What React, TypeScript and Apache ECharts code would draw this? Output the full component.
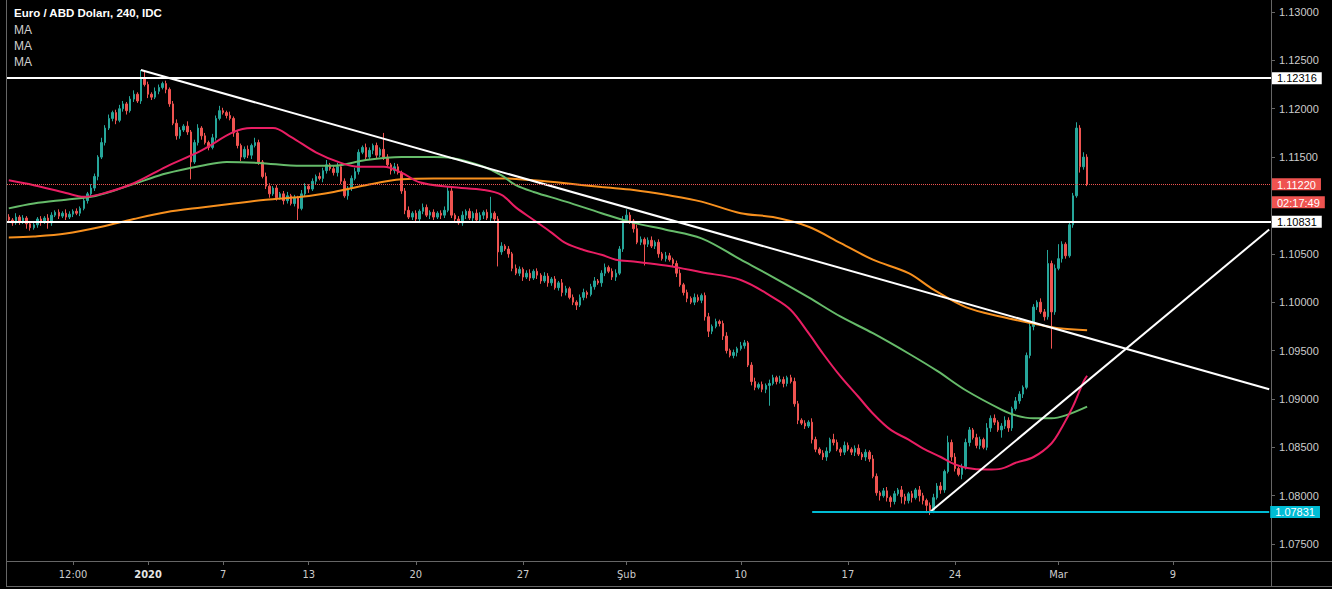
import React, { useEffect, useRef } from 'react';
import * as echarts from 'echarts';

// ---------- data ----------
const N_BARS = 354;
const tickIdx = [18, 39, 60, 84, 114, 144, 173, 205, 235, 265, 294, 326];
const tickLabels = ['12:00', '2020', '7', '13', '20', '27', 'Şub', '10', '17', '24', 'Mar', '9'];
const yTicks = [1.075, 1.08, 1.085, 1.09, 1.095, 1.1, 1.105, 1.11, 1.115, 1.12, 1.125, 1.13];
// 1.11000 sits under the countdown box in the reference
const yLabelValues = [1.075, 1.08, 1.085, 1.09, 1.095, 1.1, 1.105, 1.115, 1.12, 1.125, 1.13];

const firstOpen = 1.1088;
const closes = [
  1.1085, 1.1082, 1.1088, 1.1084, 1.1087, 1.1081, 1.1077, 1.1080, 1.1086, 1.1083, 1.1087, 1.1082, 1.1090, 1.1093, 1.1089, 1.1092, 1.1088, 1.1091, 1.1094, 1.1092,
  1.1097, 1.1105, 1.1112, 1.1118, 1.1130, 1.1150, 1.1165, 1.1180, 1.1190, 1.1196, 1.1188, 1.1200, 1.1205, 1.1198, 1.1210, 1.1215, 1.1208, 1.1232, 1.1225, 1.1215,
  1.1212, 1.1218, 1.1222, 1.1226, 1.1220, 1.1205, 1.1185, 1.1172, 1.1178, 1.1182, 1.1176, 1.1145, 1.1165, 1.1180, 1.1172, 1.1165, 1.1160, 1.1170, 1.1190, 1.1198,
  1.1196, 1.1193, 1.1190, 1.1175, 1.1162, 1.1150, 1.1158, 1.1152, 1.1162, 1.1165, 1.1145, 1.1130, 1.1120, 1.1112, 1.1118, 1.1108, 1.1112, 1.1105, 1.1110, 1.1102,
  1.1108, 1.1097, 1.1112, 1.1120, 1.1117, 1.1125, 1.1130, 1.1128, 1.1136, 1.1142, 1.1138, 1.1134, 1.1140, 1.1125, 1.1110, 1.1118, 1.1128, 1.1135, 1.1155, 1.1160,
  1.1150, 1.1157, 1.1162, 1.1152, 1.1158, 1.1150, 1.1142, 1.1136, 1.1140, 1.1134, 1.1115, 1.1095, 1.1088, 1.1092, 1.1086, 1.1094, 1.1098, 1.1090, 1.1093, 1.1088,
  1.1092, 1.1090, 1.1095, 1.1115, 1.1090, 1.1086, 1.1082, 1.1090, 1.1094, 1.1087, 1.1092, 1.1085, 1.1090, 1.1093, 1.1087, 1.1092, 1.1086, 1.1052, 1.1058, 1.1055,
  1.1050, 1.1035, 1.1030, 1.1034, 1.1026, 1.1030, 1.1025, 1.1032, 1.1028, 1.1022, 1.1027, 1.1020, 1.1024, 1.1015, 1.1020, 1.1010, 1.1014, 1.1005, 1.1000, 1.0997,
  1.1005, 1.1010, 1.1008, 1.1016, 1.1022, 1.1020, 1.1030, 1.1036, 1.1032, 1.1026, 1.1030, 1.1055, 1.1085, 1.1090, 1.1084, 1.1076, 1.1062, 1.1065, 1.1060, 1.1064,
  1.1058, 1.1062, 1.1050, 1.1045, 1.1048, 1.1044, 1.1040, 1.1030, 1.1018, 1.1010, 1.1004, 1.1000, 1.1005, 1.1002, 1.1007, 1.0985, 1.0970, 1.0975, 1.0980, 1.0978,
  1.0965, 1.0950, 1.0945, 1.0948, 1.0952, 1.0955, 1.0958, 1.0935, 1.0918, 1.0912, 1.0915, 1.0910, 1.0914, 1.0916, 1.0922, 1.0918, 1.0920, 1.0916, 1.0922, 1.0918,
  1.0895, 1.0878, 1.0875, 1.0872, 1.0876, 1.0858, 1.0848, 1.0844, 1.0840, 1.0846, 1.0858, 1.0855, 1.0848, 1.0845, 1.0852, 1.0848, 1.0845, 1.0849, 1.0843, 1.0840,
  1.0845, 1.0838, 1.0820, 1.0803, 1.0800, 1.0805, 1.0798, 1.0794, 1.0802, 1.0806, 1.0799, 1.0795, 1.0802, 1.0798, 1.0806, 1.0800, 1.0795, 1.0790, 1.0785, 1.0798,
  1.0810, 1.0806, 1.0825, 1.0855, 1.0840, 1.0828, 1.0822, 1.0830, 1.0855, 1.0868, 1.0860, 1.0852, 1.0858, 1.0850, 1.0870, 1.0880, 1.0876, 1.0868, 1.0872, 1.0878,
  1.0870, 1.0890, 1.0898, 1.0905, 1.0912, 1.0945, 1.0975, 1.0995, 1.1000, 1.0990, 1.0985, 1.1040, 1.0990, 1.1035, 1.1045, 1.1060, 1.1048, 1.1080, 1.1110, 1.1180,
  1.1140, 1.1150, 1.1122,
];
// wick lengths in pips above the body / below the body
const wickUp = [
  3, 2, 4, 2, 3, 2, 3, 4, 2, 3, 2, 4, 3, 2, 3, 2, 4, 3, 2, 3,
  2, 3, 2, 4, 3, 2, 5, 3, 4, 2, 3, 4, 3, 2, 3, 4, 2, 8, 6, 3,
  2, 4, 3, 2, 3, 2, 3, 4, 3, 2, 5, 2, 3, 4, 2, 3, 2, 4, 3, 5,
  3, 2, 4, 2, 3, 2, 3, 4, 2, 5, 3, 2, 4, 3, 2, 3, 2, 3, 4, 2,
  3, 2, 4, 3, 2, 3, 2, 4, 3, 5, 2, 3, 4, 2, 3, 2, 3, 4, 3, 2,
  4, 3, 2, 3, 2, 17, 3, 2, 4, 3, 2, 3, 4, 2, 3, 2, 4, 3, 2, 3,
  2, 3, 4, 4, 3, 2, 3, 4, 2, 3, 2, 4, 3, 2, 3, 17, 2, 3, 4, 2,
  3, 2, 4, 3, 2, 3, 4, 2, 3, 2, 4, 3, 2, 3, 2, 4, 3, 2, 3, 2,
  3, 4, 2, 3, 4, 2, 3, 4, 2, 3, 4, 3, 4, 6, 3, 2, 4, 3, 2, 3,
  4, 2, 3, 2, 4, 3, 2, 3, 4, 2, 3, 2, 4, 3, 2, 3, 4, 2, 3, 2,
  3, 4, 2, 3, 2, 4, 3, 2, 3, 4, 2, 3, 2, 4, 3, 2, 4, 3, 2, 3,
  4, 3, 2, 3, 2, 4, 3, 2, 3, 4, 2, 6, 3, 2, 4, 3, 2, 3, 4, 2,
  3, 2, 4, 3, 2, 3, 4, 2, 3, 2, 4, 3, 2, 3, 2, 4, 3, 2, 3, 4,
  3, 4, 2, 7, 3, 4, 2, 3, 4, 3, 2, 4, 3, 2, 5, 3, 4, 2, 3, 4,
  3, 2, 4, 3, 2, 3, 4, 3, 2, 4, 3, 14, 3, 4, 15, 3, 2, 4, 3, 6,
  3, 5, 3,
];
const wickDn = [
  2, 3, 2, 4, 3, 5, 3, 2, 3, 4, 2, 6, 3, 2, 3, 2, 3, 2, 3, 2,
  3, 2, 3, 2, 3, 4, 2, 3, 2, 3, 4, 2, 3, 4, 2, 3, 2, 3, 2, 4,
  3, 2, 3, 2, 4, 3, 2, 4, 3, 2, 3, 18, 2, 3, 4, 2, 3, 2, 3, 2,
  2, 3, 2, 4, 3, 4, 2, 3, 4, 2, 3, 2, 3, 4, 2, 3, 2, 4, 3, 2,
  3, 12, 2, 3, 4, 2, 3, 2, 4, 3, 2, 3, 4, 3, 2, 4, 3, 2, 3, 2,
  3, 2, 4, 3, 2, 3, 2, 4, 3, 2, 3, 4, 2, 3, 4, 2, 3, 2, 4, 3,
  2, 4, 3, 2, 3, 4, 2, 3, 4, 2, 3, 2, 3, 4, 2, 3, 4, 15, 3, 2,
  4, 3, 2, 3, 4, 2, 3, 2, 4, 3, 2, 4, 3, 2, 3, 4, 3, 2, 3, 5,
  2, 3, 4, 2, 3, 2, 4, 3, 2, 3, 4, 2, 3, 2, 3, 4, 2, 3, 22, 3,
  2, 3, 4, 2, 3, 2, 3, 4, 2, 3, 4, 2, 3, 2, 3, 4, 6, 3, 2, 3,
  4, 3, 2, 3, 4, 2, 3, 2, 4, 3, 2, 3, 4, 21, 2, 3, 2, 4, 3, 2,
  3, 4, 2, 3, 2, 4, 3, 2, 3, 4, 2, 3, 2, 4, 3, 2, 3, 4, 2, 3,
  4, 3, 2, 3, 5, 2, 4, 6, 3, 2, 7, 4, 3, 5, 2, 6, 4, 8, 5, 3,
  2, 4, 3, 2, 4, 3, 2, 5, 3, 4, 2, 3, 4, 2, 3, 4, 3, 2, 8, 3,
  4, 3, 2, 3, 4, 2, 3, 4, 3, 2, 4, 3, 38, 3, 2, 4, 3, 2, 3, 2,
  6, 3, 2,
];

// moving averages: [bar index, value]
const maRed = [
  [0, 1.1126], [7, 1.1121], [16, 1.1113], [21, 1.1109], [26, 1.1112], [35, 1.1123], [44, 1.1140], [54, 1.1157],
  [63, 1.1176], [68, 1.1180], [74, 1.1180], [79, 1.1171], [86, 1.1155], [93, 1.1144], [98, 1.1140], [105, 1.1140],
  [110, 1.1134], [115, 1.1124], [124, 1.1119], [133, 1.1116], [138, 1.1111], [142, 1.1098], [147, 1.1085], [152, 1.1072],
  [156, 1.1061], [161, 1.1054], [166, 1.1049], [170, 1.1044], [175, 1.1042], [184, 1.1038], [194, 1.1031], [205, 1.1023],
  [214, 1.1005], [219, 1.0992], [224, 1.0968], [228, 1.0947], [233, 1.0923], [238, 1.0902], [242, 1.0885], [247, 1.0868],
  [252, 1.0858], [256, 1.0849], [261, 1.0840], [264, 1.0834], [268, 1.0829], [274, 1.0827], [278, 1.0828], [282, 1.0834],
  [287, 1.0840], [292, 1.0854], [295, 1.0871], [298, 1.0892], [301, 1.0918], [302, 1.0924],
];
const maGreen = [
  [0, 1.1097], [7, 1.1102], [16, 1.1106], [23, 1.1109], [30, 1.1116], [38, 1.1126], [44, 1.1133], [54, 1.1141],
  [61, 1.1145], [70, 1.1144], [82, 1.1141], [91, 1.1141], [100, 1.1147], [110, 1.1150], [119, 1.1150], [124, 1.1149],
  [133, 1.1140], [138, 1.1131], [142, 1.1121], [147, 1.1114], [156, 1.1104], [166, 1.1092], [175, 1.1082], [184, 1.1075],
  [194, 1.1066], [205, 1.1044], [214, 1.1026], [224, 1.1005], [233, 1.0985], [242, 1.0968], [252, 1.0947], [260, 1.0929],
  [268, 1.0909], [278, 1.0889], [282, 1.0883], [287, 1.0880], [292, 1.0880], [296, 1.0883], [302, 1.0892],
];
const maOrange = [
  [0, 1.1067], [7, 1.1068], [16, 1.1071], [26, 1.1078], [35, 1.1086], [44, 1.1093], [54, 1.1098], [63, 1.1102],
  [72, 1.1106], [82, 1.1109], [91, 1.1114], [100, 1.1121], [110, 1.1127], [119, 1.1128], [138, 1.1128], [147, 1.1126],
  [156, 1.1123], [166, 1.1119], [175, 1.1116], [184, 1.1111], [194, 1.1104], [205, 1.1092], [214, 1.1088], [224, 1.1078],
  [233, 1.1061], [242, 1.1044], [252, 1.1030], [259, 1.1013], [268, 1.0995], [278, 1.0985], [287, 1.0978], [294, 1.0973],
  [302, 1.0971],
];

const trendDown = [[37, 1.124], [353, 1.091]];
const trendUp = [[258, 1.07831], [353, 1.10752]];
const levelHigh = 1.12316;
const levelMid = 1.10831;
const levelLow = 1.07831;
const levelLowFrom = 225;
const lastPrice = 1.1122;
const countdown = '02:17:49';
const titleText = 'Euro / ABD Doları, 240, IDC';
const maNames = ['MA', 'MA', 'MA'];

// ---------- chart ----------
const AXIS_COLOR = '#666666';
const LABEL_COLOR = '#cccccc';
const FONT = '"Liberation Sans", Arial, sans-serif';
const NARROW = '"Liberation Sans Narrow", "DejaVu Sans Condensed", "Liberation Sans", sans-serif';

export default function App() {
  const ref = useRef<HTMLDivElement>(null);

  useEffect(() => {
    if (!ref.current) return;
    const chart = echarts.init(ref.current, undefined, { renderer: 'svg' });

    const cats = Array.from({ length: N_BARS }, (_, i) => String(i));
    const tickMap: Record<number, string> = {};
    tickIdx.forEach((t, k) => (tickMap[t] = tickLabels[k]));
    const isTick = (i: number) => tickMap[i] !== undefined;

    const candles = closes.map((c, i) => {
      const o = i === 0 ? firstOpen : closes[i - 1];
      const hi = Math.max(o, c) + (wickUp[i] ?? 0) * 0.0001;
      const lo = Math.min(o, c) - (wickDn[i] ?? 0) * 0.0001;
      return [o, c, +lo.toFixed(5), +hi.toFixed(5)];
    });

    const boxLabel = (bg: string, fg: string, text: string) => ({
      show: true,
      position: 'end',
      distance: 1,
      formatter: text,
      backgroundColor: bg,
      color: fg,
      padding: [1, 5, 0, 5],
      fontSize: 11,
      fontFamily: FONT,
    });

    const maSeries = (data: number[][], color: string) => ({
      type: 'line',
      data,
      smooth: 0.35,
      showSymbol: false,
      symbol: 'none',
      silent: true,
      lineStyle: { color, width: 2 },
      z: 3,
    });

    const lineSeg = (data: number[][]) => ({
      type: 'line',
      data,
      showSymbol: false,
      symbol: 'none',
      silent: true,
      lineStyle: { color: '#ffffff', width: 2 },
      z: 4,
    });

    const option: any = {
      animation: false,
      backgroundColor: '#000000',
      grid: { left: 7, right: 61, top: 0, bottom: 28 },
      xAxis: {
        type: 'category',
        data: cats,
        boundaryGap: true,
        axisLine: { show: true, lineStyle: { color: AXIS_COLOR, width: 1 } },
        axisTick: {
          show: true,
          alignWithLabel: true,
          interval: (i: number) => isTick(i),
          length: 4,
          lineStyle: { color: AXIS_COLOR },
        },
        axisLabel: {
          interval: (i: number) => isTick(i),
          formatter: (_v: string, i: number) => {
            const t = tickMap[i] ?? '';
            return t === '2020' ? '{b|' + t + '}' : t;
          },
          color: LABEL_COLOR,
          fontSize: 11,
          fontFamily: NARROW,
          margin: 8,
          rich: { b: { fontWeight: 'bold', color: '#e6e6e6', fontSize: 11, fontFamily: NARROW } },
        },
        splitLine: { show: false },
      },
      yAxis: {
        type: 'value',
        position: 'right',
        min: 1.07325,
        max: 1.13124,
        scale: true,
        axisLine: { show: true, lineStyle: { color: AXIS_COLOR, width: 1 } },
        axisTick: { show: true, length: 4, customValues: yTicks, lineStyle: { color: AXIS_COLOR } },
        axisLabel: {
          customValues: yLabelValues,
          formatter: (v: number) => v.toFixed(5),
          color: LABEL_COLOR,
          fontSize: 11,
          fontFamily: FONT,
          margin: 8,
        },
        splitLine: { show: false },
      },
      series: [
        {
          type: 'candlestick',
          data: candles,
          barWidth: 2,
          silent: true,
          itemStyle: {
            color: '#26a69a',
            color0: '#ef5350',
            borderColor: '#26a69a',
            borderColor0: '#ef5350',
            borderWidth: 1,
          },
          z: 2,
          markLine: {
            symbol: ['none', 'none'],
            silent: true,
            animation: false,
            precision: 5,
            z: 5,
            data: [
              {
                yAxis: lastPrice,
                lineStyle: { color: '#ef5350', width: 1, type: 'dotted' },
                label: {
                  show: true,
                  position: 'end',
                  distance: 1,
                  formatter: '{a|' + lastPrice.toFixed(5) + '}\n{b|' + countdown + '}',
                  padding: [18, 0, 0, 0],
                  fontSize: 11,
                  fontFamily: FONT,
                  rich: {
                    a: { backgroundColor: '#ef5350', color: '#ffffff', fontSize: 11, fontFamily: FONT, padding: [1, 5, 0, 5], lineHeight: 18 },
                    b: { backgroundColor: '#ef5350', color: '#ffffff', fontSize: 11, fontFamily: FONT, padding: [1, 5, 0, 5], lineHeight: 18 },
                  },
                },
              },
              {
                yAxis: levelHigh,
                lineStyle: { color: '#ffffff', width: 2, type: 'solid' },
                label: boxLabel('#ffffff', '#000000', levelHigh.toFixed(5)),
              },
              {
                yAxis: levelMid,
                lineStyle: { color: '#ffffff', width: 2, type: 'solid' },
                label: boxLabel('#ffffff', '#000000', levelMid.toFixed(5)),
              },
              [
                {
                  coord: [levelLowFrom, levelLow],
                  lineStyle: { color: '#00bcd4', width: 2, type: 'solid' },
                  label: boxLabel('#00bcd4', '#ffffff', levelLow.toFixed(5)),
                },
                { coord: [N_BARS - 1, levelLow] },
              ],
            ],
          },
        },
        maSeries(maOrange, '#f7901e'),
        maSeries(maGreen, '#66bb6a'),
        maSeries(maRed, '#e91e63'),
        lineSeg(trendDown),
        lineSeg(trendUp),
      ],
      graphic: [
        { type: 'text', left: 14, top: 7, silent: true, style: { text: titleText, fill: '#ffffff', fontSize: 11.5, fontWeight: 'bold', fontFamily: FONT } },
        ...maNames.map((m, k) => ({
          type: 'text',
          left: 14,
          top: 24 + k * 16,
          silent: true,
          style: { text: m, fill: '#d0d0d0', fontSize: 12, fontFamily: FONT },
        })),
        { type: 'line', silent: true, shape: { x1: 6.5, y1: 0, x2: 6.5, y2: 587 }, style: { stroke: AXIS_COLOR, lineWidth: 1 } },
        { type: 'line', silent: true, shape: { x1: 6, y1: 586.5, x2: 1332, y2: 586.5 }, style: { stroke: AXIS_COLOR, lineWidth: 1 } },
        { type: 'line', silent: true, shape: { x1: 1271.5, y1: 561, x2: 1271.5, y2: 587 }, style: { stroke: AXIS_COLOR, lineWidth: 1 } },
        { type: 'line', silent: true, shape: { x1: 1271, y1: 561.5, x2: 1332, y2: 561.5 }, style: { stroke: AXIS_COLOR, lineWidth: 1 } },
      ],
    };

    chart.setOption(option);
    return () => chart.dispose();
  }, []);

  return (
    <div
      ref={ref}
      style={{ position: 'absolute', left: 0, top: 0, width: 1332, height: 589, background: '#000' }}
    />
  );
}
